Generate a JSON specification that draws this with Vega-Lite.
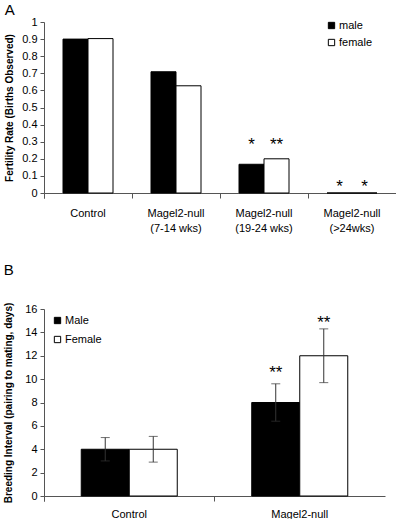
{
  "$schema": "https://vega.github.io/schema/vega-lite/v6.json",
  "padding": {"left": 3, "top": 3, "right": 0, "bottom": 0},
  "spacing": 30,
  "resolve": {"scale": {"fill": "independent", "y": "independent", "x": "independent", "xOffset": "independent"}, "legend": {"fill": "independent"}},
  "datasets": {
    "fert": [
      {"group": "Control", "sex": "male", "rate": 0.9},
      {"group": "Control", "sex": "female", "rate": 0.903},
      {"group": "Magel2-null|(7-14 wks)", "sex": "male", "rate": 0.709},
      {"group": "Magel2-null|(7-14 wks)", "sex": "female", "rate": 0.627},
      {"group": "Magel2-null|(19-24 wks)", "sex": "male", "rate": 0.168},
      {"group": "Magel2-null|(19-24 wks)", "sex": "female", "rate": 0.2},
      {"group": "Magel2-null|(>24wks)", "sex": "male", "rate": 0},
      {"group": "Magel2-null|(>24wks)", "sex": "female", "rate": 0}
    ],
    "fertStars": [
      {"group": "Magel2-null|(19-24 wks)", "sex": "male", "y": 0.28, "star": "*"},
      {"group": "Magel2-null|(19-24 wks)", "sex": "female", "y": 0.28, "star": "**"},
      {"group": "Magel2-null|(>24wks)", "sex": "male", "y": 0.035, "star": "*"},
      {"group": "Magel2-null|(>24wks)", "sex": "female", "y": 0.035, "star": "*"}
    ],
    "breed": [
      {"group": "Control", "sex": "Male", "days": 4, "lo": 3, "hi": 5},
      {"group": "Control", "sex": "Female", "days": 4, "lo": 2.9, "hi": 5.1},
      {"group": "Magel2-null", "sex": "Male", "days": 8, "lo": 6.4, "hi": 9.6},
      {"group": "Magel2-null", "sex": "Female", "days": 12, "lo": 9.7, "hi": 14.3}
    ],
    "breedStars": [
      {"group": "Magel2-null", "sex": "Male", "y": 10.5, "star": "**"},
      {"group": "Magel2-null", "sex": "Female", "y": 14.8, "star": "**"}
    ]
  },
  "config": {
    "view": {"stroke": null},
    "font": "Liberation Sans",
    "axis": {
      "grid": false,
      "domainColor": "#555555",
      "tickColor": "#555555",
      "labelColor": "black",
      "labelFont": "Liberation Sans",
      "labelFontSize": 11,
      "labelOverlap": false,
      "titleFont": "Liberation Sans",
      "titleFontSize": 10,
      "titleFontWeight": "bold",
      "titleColor": "black"
    },
    "legend": {
      "labelFont": "Liberation Sans",
      "labelFontSize": 11,
      "labelColor": "black"
    }
  },
  "vconcat": [
    {
      "width": 352,
      "height": 171,
      "title": {"text": "A", "anchor": "start", "frame": "bounds", "fontSize": 15, "fontWeight": "normal", "font": "Liberation Sans", "offset": -2},
      "encoding": {
        "x": {
          "field": "group", "type": "nominal",
          "sort": ["Control", "Magel2-null|(7-14 wks)", "Magel2-null|(19-24 wks)", "Magel2-null|(>24wks)"],
          "scale": {"paddingInner": 0, "paddingOuter": 0},
          "axis": {"title": null, "labelAngle": 0, "bandPosition": 0, "tickExtra": true, "labelExpr": "split(datum.label, '|')", "labelLineHeight": 15, "tickSize": 5, "labelPadding": 9, "labelBaseline": "top"}
        },
        "xOffset": {"field": "sex", "type": "nominal", "sort": ["male", "female"], "scale": {"paddingOuter": 0.76, "paddingInner": 0}},
        "y": {
          "field": "rate", "type": "quantitative",
          "scale": {"domain": [0, 1]},
          "axis": {"title": "Fertility Rate (Births Observed)", "values": [0, 0.1, 0.2, 0.3, 0.4, 0.5, 0.6, 0.7, 0.8, 0.9, 1], "format": "~g", "tickSize": 4, "labelPadding": 3, "titlePadding": 7}
        }
      },
      "layer": [
        {
          "data": {"name": "fert"},
          "mark": {"type": "bar", "stroke": "black", "strokeWidth": 1},
          "encoding": {
            "fill": {
              "field": "sex", "type": "nominal",
              "scale": {"domain": ["male", "female"], "range": ["black", "white"]},
              "legend": {"title": null, "orient": "none", "legendX": 282, "legendY": -2, "symbolType": "square", "symbolSize": 40, "symbolStrokeColor": "black", "symbolStrokeWidth": 1, "labelOffset": 2, "rowPadding": 5}
            }
          }
        },
        {
          "data": {"name": "fertStars"},
          "mark": {"type": "text", "fontSize": 17, "baseline": "middle", "color": "black", "font": "Liberation Sans"},
          "encoding": {
            "y": {"field": "y", "type": "quantitative"},
            "text": {"field": "star"}
          }
        }
      ]
    },
    {
      "width": 341,
      "height": 187,
      "title": {"text": "B", "anchor": "start", "frame": "bounds", "fontSize": 15, "fontWeight": "normal", "font": "Liberation Sans", "offset": 24},
      "encoding": {
        "x": {
          "field": "group", "type": "nominal",
          "sort": ["Control", "Magel2-null"],
          "scale": {"paddingInner": 0, "paddingOuter": 0},
          "axis": {"title": null, "labelAngle": 0, "bandPosition": 0, "tickExtra": true, "tickSize": 5, "labelPadding": 7, "labelBaseline": "top"}
        },
        "xOffset": {"field": "sex", "type": "nominal", "sort": ["Male", "Female"], "scale": {"paddingOuter": 0.776, "paddingInner": 0}},
        "y": {
          "field": "days", "type": "quantitative",
          "scale": {"domain": [0, 16]},
          "axis": {"title": "Breeding Interval (pairing to mating, days)", "values": [0, 2, 4, 6, 8, 10, 12, 14, 16], "tickSize": 4, "labelPadding": 3, "titlePadding": 11}
        }
      },
      "layer": [
        {
          "data": {"name": "breed"},
          "mark": {"type": "bar", "stroke": "black", "strokeWidth": 1},
          "encoding": {
            "fill": {
              "field": "sex", "type": "nominal",
              "scale": {"domain": ["Male", "Female"], "range": ["black", "white"]},
              "legend": {"title": null, "orient": "none", "legendX": 8, "legendY": 6, "symbolType": "square", "symbolSize": 40, "symbolStrokeColor": "black", "symbolStrokeWidth": 1, "labelOffset": 2, "rowPadding": 7}
            }
          }
        },
        {
          "data": {"name": "breed"},
          "mark": {"type": "rule", "color": "#333333", "strokeWidth": 1},
          "encoding": {
            "y": {"field": "lo", "type": "quantitative"},
            "y2": {"field": "hi"}
          }
        },
        {
          "data": {"name": "breed"},
          "mark": {"type": "tick", "color": "#333333", "thickness": 1, "size": 9},
          "encoding": {"y": {"field": "lo", "type": "quantitative"}}
        },
        {
          "data": {"name": "breed"},
          "mark": {"type": "tick", "color": "#333333", "thickness": 1, "size": 9},
          "encoding": {"y": {"field": "hi", "type": "quantitative"}}
        },
        {
          "data": {"name": "breedStars"},
          "mark": {"type": "text", "fontSize": 17, "baseline": "middle", "color": "black", "font": "Liberation Sans"},
          "encoding": {
            "y": {"field": "y", "type": "quantitative"},
            "text": {"field": "star"}
          }
        }
      ]
    }
  ]
}
